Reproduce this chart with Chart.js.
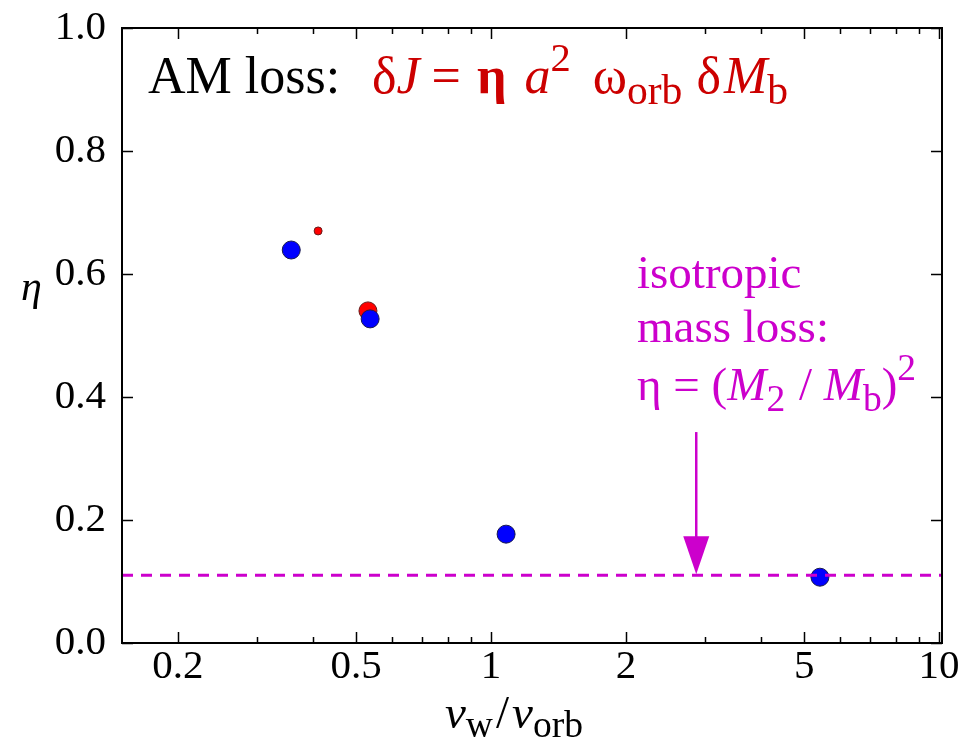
<!DOCTYPE html>
<html>
<head>
<meta charset="utf-8">
<script src="https://cdn.jsdelivr.net/npm/chart.js@4.4.0/dist/chart.umd.min.js"></script>
<style>
  html, body { margin: 0; padding: 0; background: #fff; }
  #wrap { width: 972px; height: 750px; }
</style>
</head>
<body>
<div id="wrap"><canvas id="myChart"></canvas></div>
<script>
// blue points (large)
var blueRatio = [0.358, 0.537, 1.08, 5.42];
var blueEta = [0.639, 0.527, 0.177, 0.107];
// red points
var redRatio = [0.411, 0.531];
var redEta = [0.670, 0.540];
var redSize = [4, 9];
// isotropic mass loss level
var isoEta = 0.11;
var arrowX = 2.87;
var arrowTop = 0.343;

var xLabels = [0.2, 0.5, 1, 2, 5, 10];
var xMinor = [0.3, 0.4, 0.6, 0.7, 0.8, 0.9, 3, 4, 6, 7, 8, 9];
var yLabels = [0, 0.2, 0.4, 0.6, 0.8, 1.0];

var SERIF = "'Liberation Serif', 'Times New Roman', serif";
var RED = '#cc0000';
var MAG = '#cc00cc';

function toPts(xs, ys) {
    return xs.map(function(x, i) { return { x: x, y: ys[i] }; });
}

// draws a run of pieces; each piece: [text, style, dy, sizeFactor, gapBefore]
function richText(c, x, y, size, color, pieces) {
    c.fillStyle = color;
    c.textBaseline = 'alphabetic';
    c.textAlign = 'left';
    pieces.forEach(function(p) {
        var sz = size * (p[3] || 1);
        x += p[4] || 0;
        c.font = (p[1] || '') + ' ' + sz + 'px ' + SERIF;
        c.fillText(p[0], x, y + (p[2] || 0));
        x += c.measureText(p[0]).width;
    });
}

var extras = {
    id: 'extras',
    afterDatasetsDraw: function(chart) {
        var c = chart.ctx;
        var a = chart.chartArea;
        var xs = chart.scales.x, ys = chart.scales.y;
        c.save();

        // frame
        c.strokeStyle = '#000';
        c.lineWidth = 2;
        c.strokeRect(a.left, a.top, a.right - a.left, a.bottom - a.top);

        // inward ticks, mirrored on top/right
        c.lineWidth = 1.5;
        c.beginPath();
        xLabels.concat(xMinor).forEach(function(v) {
            var len = xLabels.indexOf(v) >= 0 ? 11 : 6;
            var px = Math.round(xs.getPixelForValue(v)) + 0.5;
            c.moveTo(px, a.bottom); c.lineTo(px, a.bottom - len);
            c.moveTo(px, a.top); c.lineTo(px, a.top + len);
        });
        yLabels.forEach(function(v) {
            var py = Math.round(ys.getPixelForValue(v)) + 0.5;
            c.moveTo(a.left, py); c.lineTo(a.left + 11, py);
            c.moveTo(a.right, py); c.lineTo(a.right - 11, py);
        });
        c.stroke();

        // arrow
        var ax = xs.getPixelForValue(arrowX);
        var ay0 = ys.getPixelForValue(arrowTop);
        var ay1 = ys.getPixelForValue(isoEta);
        c.strokeStyle = MAG;
        c.fillStyle = MAG;
        c.lineWidth = 2.5;
        c.beginPath();
        c.moveTo(ax, ay0); c.lineTo(ax, ay1 - 36);
        c.stroke();
        c.beginPath();
        c.moveTo(ax - 13, ay1 - 39);
        c.lineTo(ax + 13, ay1 - 39);
        c.lineTo(ax, ay1 - 1);
        c.closePath();
        c.fill();

        // AM loss formula
        richText(c, 148, 93, 52, '#000', [['AM loss:', '']]);
        richText(c, 372, 93, 52, RED, [
            ['\u03b4', ''], ['J', 'italic'], ['=', '', 0, 1, 12], ['\u03b7', 'bold', 0, 1, 16],
            ['a', 'italic', 0, 1, 18], ['2', '', -22, 0.78], ['\u03c9', '', 0, 1, 22],
            ['orb', '', 11, 0.8], ['\u03b4', '', 0, 1, 14], ['M', 'italic', 0, 1, 3],
            ['b', '', 11, 0.8]
        ]);

        // isotropic note
        richText(c, 637, 288, 47, MAG, [['isotropic', '']]);
        richText(c, 637, 342, 47, MAG, [['mass loss:', '']]);
        richText(c, 637, 400, 47, MAG, [
            ['\u03b7 = (', ''], ['M', 'italic'], ['2', '', 11, 0.8], [' / ', '', 0, 1, 2],
            ['M', 'italic'], ['b', '', 11, 0.8], [')', ''], ['2', '', -20, 0.8]
        ]);

        // axis titles
        richText(c, 21, 300, 42, '#000', [['\u03b7', 'italic']]);
        richText(c, 445, 728, 47, '#000', [
            ['v', 'italic'], ['w', '', 9, 0.8], ['/', '', 0, 1, 3], ['v', 'italic', 0, 1, 3], ['orb', '', 9, 0.8]
        ]);
        c.restore();
    }
};

var ctx = document.getElementById('myChart');
var myChart = new Chart(ctx, {
    type: 'scatter',
    data: {
        datasets: [
            {
                type: 'line',
                data: [{ x: 0.15, y: isoEta }, { x: 10.15, y: isoEta }],
                borderColor: MAG,
                borderWidth: 3,
                borderDash: [11, 8],
                pointRadius: 0,
                fill: false,
                order: 0
            },
            {
                data: toPts(blueRatio, blueEta),
                backgroundColor: '#0000ff',
                borderColor: '#1a1a4d',
                borderWidth: 1,
                pointRadius: 9,
                order: 1
            },
            {
                data: toPts(redRatio, redEta),
                backgroundColor: '#ff0000',
                borderColor: '#661a1a',
                borderWidth: 1,
                pointRadius: redSize,
                order: 2
            }
        ]
    },
    options: {
        responsive: true,
        maintainAspectRatio: false,
        animation: false,
        layout: { padding: { top: 28, right: 30, left: 0, bottom: 0 } },
        plugins: {
            legend: { display: false },
            tooltip: { enabled: false }
        },
        scales: {
            x: {
                type: 'logarithmic',
                min: 0.15,
                max: 10.15,
                grid: { display: false, drawTicks: false },
                border: { display: false },
                afterBuildTicks: function(s) {
                    s.ticks = xLabels.map(function(v) { return { value: v }; });
                },
                afterFit: function(s) {
                    s.height = 107;
                    s.paddingLeft = 0; s.paddingRight = 0;
                },
                ticks: {
                    color: '#000',
                    padding: 0,
                    maxRotation: 0,
                    autoSkip: false,
                    font: { family: SERIF, size: 41 },
                    callback: function(v) { return String(v); }
                }
            },
            y: {
                min: 0,
                max: 1,
                grid: { display: false, drawTicks: false },
                border: { display: false },
                afterBuildTicks: function(s) {
                    s.ticks = yLabels.map(function(v) { return { value: v }; });
                },
                afterFit: function(s) {
                    s.width = 122;
                    s.paddingTop = 0; s.paddingBottom = 0;
                },
                ticks: {
                    color: '#000',
                    padding: 16,
                    font: { family: SERIF, size: 41 },
                    callback: function(v) { return v.toFixed(1); }
                }
            }
        }
    },
    plugins: [extras]
});
</script>
</body>
</html>
